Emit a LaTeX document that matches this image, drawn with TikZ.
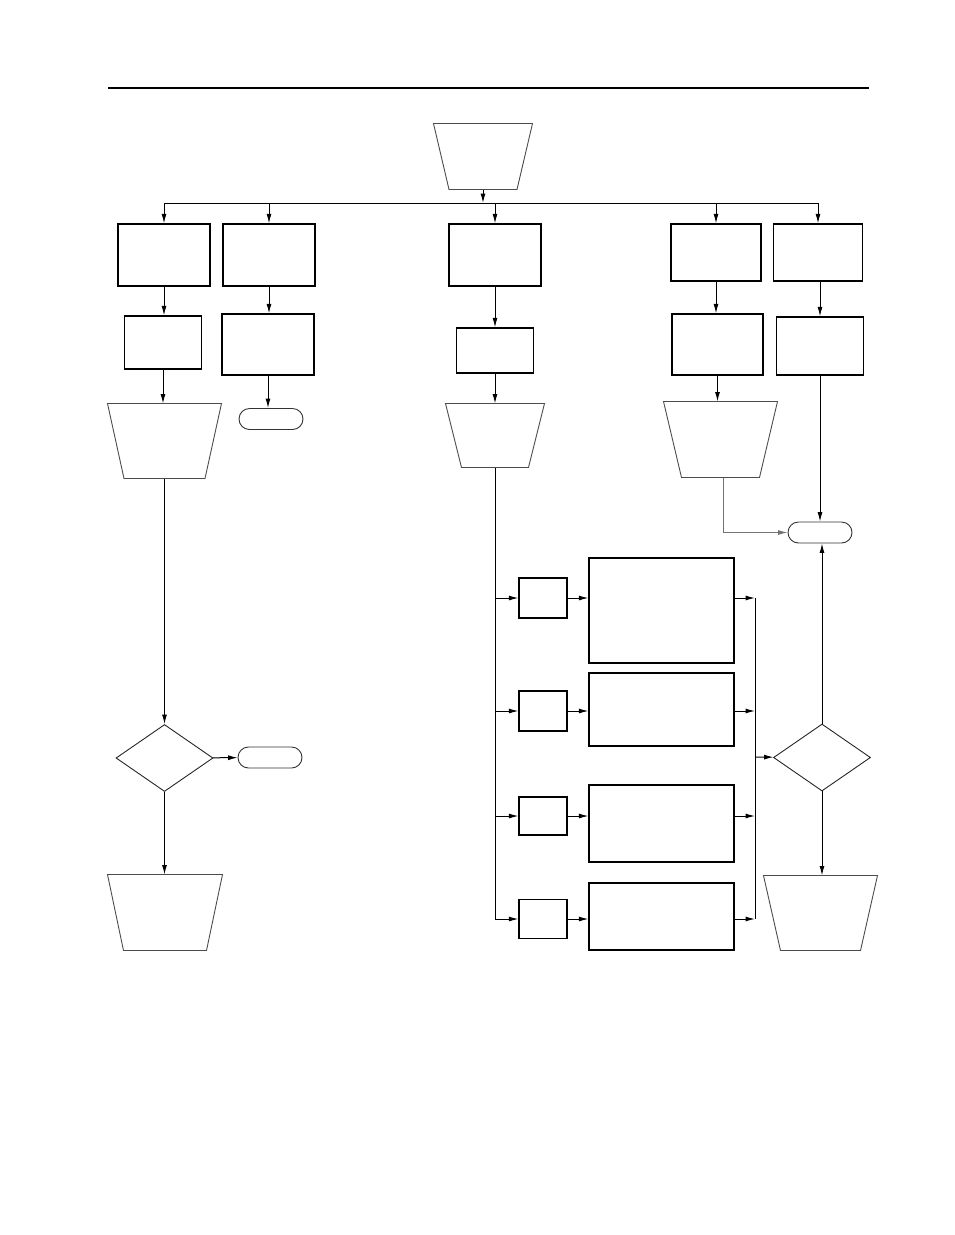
\documentclass[tikz,border=0pt]{standalone}
\usepackage{tikz}
\usetikzlibrary{arrows.meta,shapes.geometric,shapes.misc,calc}

\begin{document}
\begin{tikzpicture}[x=1pt,y=-1pt,line width=1pt,>={Latex[length=9.5pt,width=5pt]},
blk/.style 2 args={rectangle, draw, line width=1.3pt, inner sep=0pt, minimum width=#1, minimum height=#2},
trpz/.style 2 args={rectangle, inner sep=0pt, minimum width=#1, minimum height=#2},
term/.style={rounded rectangle, draw=black!80, line width=0.9pt, inner sep=0pt, minimum width=64, minimum height=21},
dec/.style={diamond, draw=black!85, line width=0.9pt, inner sep=0pt, minimum width=97, minimum height=67}]
\useasboundingbox (0,0) rectangle (954,1235);
\draw[line width=2.2pt] (108,88) -- (869,88);
\node (t0) [trpz={98}{65}] at (483,156.5) {};
\coordinate (jt) at (483,203);
\node (a1) [blk={92}{62}] at (164,255) {};
\node (a2) [blk={92}{62}] at (269,255) {};
\node (a3) [blk={92}{62}] at (495,255) {};
\node (a4) [blk={90}{57}] at (716,252.5) {};
\node (a5) [blk={89}{57}] at (818,252.5) {};
\node (b1) [blk={77}{53}] at (163,342.5) {};
\node (b2) [blk={92}{61}] at (268,344.5) {};
\node (b3) [blk={77}{45}] at (495,350.5) {};
\node (b4) [blk={91}{61}] at (717.5,344.5) {};
\node (b5) [blk={87}{58}] at (820,346) {};
\node (c1) [trpz={113}{74}] at (164.5,441) {};
\node (g2) [term] at (271,419) {};
\node (c3) [trpz={98}{63}] at (495,435.5) {};
\node (c4) [trpz={113}{75}] at (720.5,439.5) {};
\node (h5) [term] at (820,532.5) {};
\node (d1) [dec] at (164.5,758) {};
\node (e1) [term] at (270,757.5) {};
\node (f1) [trpz={114}{75}] at (165,912.5) {};
\node (d5) [dec] at (822,757.5) {};
\node (f5) [trpz={113}{74}] at (820.5,913) {};
\node (s1) [blk={48}{40}] at (543,598) {};
\node (s2) [blk={48}{40}] at (543,711) {};
\node (s3) [blk={48}{38}] at (543,816) {};
\node (s4) [blk={48}{39}] at (543,919) {};
\node (r1) [blk={145}{105}] at (661.5,610.5) {};
\node (r2) [blk={145}{73}] at (661.5,709.5) {};
\node (r3) [blk={145}{77}] at (661.5,823.5) {};
\node (r4) [blk={145}{67}] at (661.5,916.5) {};
\coordinate (m) at (755,757);
\foreach \n/\d in {t0/15.5,c1/16.5,c3/16,c4/18,f1/16,f5/17}
\draw[draw=black!70,line width=0.9pt] (\n.north west) -- (\n.north east) -- ($(\n.south east)+(-\d,0)$) -- ($(\n.south west)+(\d,0)$) -- cycle;
\draw[->] (t0) -- (jt);
\draw (a1 |- jt) -- (a5 |- jt);
\foreach \n in {a1,a2,a3,a4,a5}
\draw[->] (\n |- jt) -- (\n);
\foreach \from/\to in {a1/b1,b1/c1,c1/d1,d1/f1,a2/b2,b2/g2,a3/b3,b3/c3,a4/b4,b4/c4,b5/h5,d5/f5}
\draw[->] (\from.south) -- (\from.south |- \to.north);
\draw[->] (a5.south -| b5) -- (b5);
\draw[->] (d1) -- (e1);
\draw[->] (d5.north) -- (d5.north |- h5.south);
\draw (c3.south) -- (c3.south |- s4);
\foreach \s/\r in {s1/r1,s2/r2,s3/r3,s4/r4}{
\draw[->] (c3.south |- \s) -- (\s);
\draw[->] (\s) -- (\s -| \r.west);
\draw[->] (\r.east |- \s) -- (m |- \s);
}
\draw (m |- s1) -- (m |- s4);
\draw[->] (m) -- (d5);
\draw[->,black!55] ($(c4.south)+(2.5,0)$) |- (h5);
\end{tikzpicture}
\end{document}
